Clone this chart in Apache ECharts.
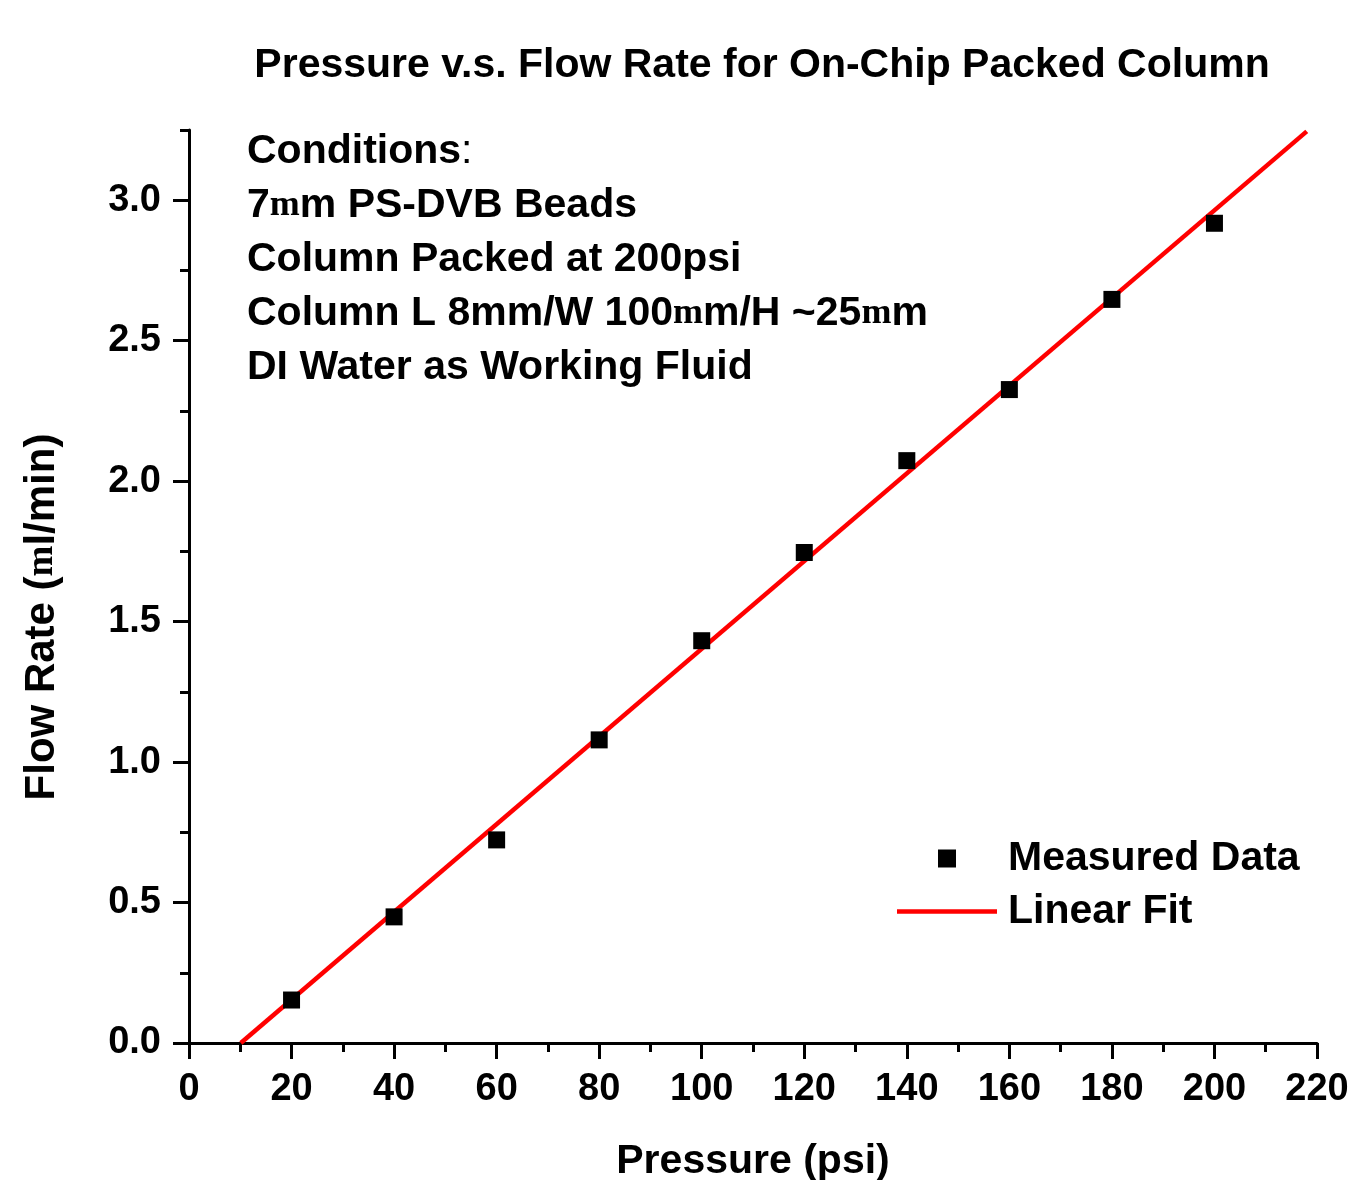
<!DOCTYPE html>
<html>
<head>
<meta charset="utf-8">
<script src="https://cdn.jsdelivr.net/npm/echarts@6/dist/echarts.min.js"></script>
<style>
  html, body { margin: 0; padding: 0; background: #fff; }
  #main { width: 1350px; height: 1180px; }
</style>
</head>
<body>
<div id="main"></div>
<script>
// measured points
var pressure = [20, 40, 60, 80, 100, 120, 140, 160, 180, 200];
var flowRate = [0.153, 0.449, 0.723, 1.079, 1.432, 1.746, 2.073, 2.326, 2.647, 2.918];
// linear fit end points
var fitX = [10.1, 218];
var fitY = [0, 3.245];
var yMajor = [0, 0.5, 1.0, 1.5, 2.0, 2.5, 3.0];
var yMinor = [0.25, 0.75, 1.25, 1.75, 2.25, 2.75, 3.25];

var FONT = 'Liberation Sans';

var chart = echarts.init(document.getElementById('main'));

var measured = pressure.map(function (p, i) { return [p, flowRate[i]]; });
var fit = fitX.map(function (x, i) { return [x, fitY[i]]; });

var option = {
  backgroundColor: '#fff',
  animation: false,
  textStyle: { fontFamily: FONT },
  title: {
    text: 'Pressure v.s. Flow Rate for On-Chip Packed Column',
    left: 757,
    textAlign: 'center',
    top: 40,
    textStyle: { fontFamily: FONT, fontWeight: 'bold', fontSize: 41, color: '#000' }
  },
  grid: { left: 189, right: 33, top: 130, bottom: 137, outerBoundsMode: 'none' },
  legend: {
    orient: 'vertical',
    left: 892,
    top: 833,
    itemWidth: 100,
    itemHeight: 18,
    itemGap: 12,
    symbolKeepAspect: true,
    textStyle: { fontFamily: FONT, fontWeight: 'bold', fontSize: 41, lineHeight: 41, color: '#000', padding: [0, 0, 0, 6] },
    data: [
      { name: 'Measured Data', icon: 'path://M0,0L1,0L1,1L0,1Z' },
      { name: 'Linear Fit', icon: 'path://M0,0L100,0L100,4.5L0,4.5Z' }
    ]
  },
  xAxis: {
    type: 'value',
    min: 0,
    max: 220,
    interval: 20,
    name: 'Pressure (psi)',
    nameLocation: 'middle',
    nameGap: 98,
    nameTextStyle: { fontFamily: FONT, fontWeight: 'bold', fontSize: 41, color: '#000' },
    axisLine: { onZero: false, lineStyle: { color: '#000', width: 3 } },
    axisTick: { show: true, length: 16, lineStyle: { color: '#000', width: 3 } },
    minorTick: { show: true, splitNumber: 2, length: 9, lineStyle: { color: '#000', width: 3 } },
    axisLabel: { fontFamily: FONT, fontWeight: 'bold', fontSize: 38, color: '#000', margin: 28 },
    splitLine: { show: false }
  },
  yAxis: [{
    type: 'value',
    min: 0,
    max: 3.25,
    axisLine: { onZero: false, lineStyle: { color: '#000', width: 3 } },
    axisTick: { show: true, length: 16, customValues: yMajor, lineStyle: { color: '#000', width: 3 } },
    axisLabel: {
      customValues: yMajor,
      fontFamily: FONT, fontWeight: 'bold', fontSize: 38, color: '#000', margin: 28,
      formatter: function (v) { return v.toFixed(1); }
    },
    splitLine: { show: false }
  }, {
    type: 'value',
    min: 0,
    max: 3.25,
    position: 'left',
    axisLine: { show: false },
    axisTick: { show: true, length: 9, customValues: yMinor, lineStyle: { color: '#000', width: 3 } },
    axisLabel: { show: false },
    splitLine: { show: false }
  }],
  graphic: [{
    type: 'text',
    left: 247,
    top: 131,
    style: {
      text: '{b|Conditions}{n|:}\n{b|7}{s|m}{b|m PS-DVB Beads}\n{b|Column Packed at 200psi}\n{b|Column L 8mm/W 100}{s|m}{b|m/H ~25}{s|m}{b|m}\n{b|DI Water as Working Fluid}',
      rich: {
        b: { fontFamily: FONT, fontWeight: 'bold', fontSize: 41, color: '#000', lineHeight: 54 },
        n: { fontFamily: FONT, fontWeight: 'normal', fontSize: 41, color: '#000', lineHeight: 54 },
        s: { fontFamily: 'Liberation Serif', fontWeight: 'bold', fontSize: 36, color: '#000', lineHeight: 54 }
      }
    }
  }, {
    type: 'text',
    rotation: Math.PI / 2,
    x: 42,
    y: 617,
    style: {
      text: '{b|Flow Rate (}{s|m}{b|l/min)}',
      align: 'center',
      verticalAlign: 'middle',
      rich: {
        b: { fontFamily: FONT, fontWeight: 'bold', fontSize: 42, color: '#000' },
        s: { fontFamily: 'Liberation Serif', fontWeight: 'bold', fontSize: 37, color: '#000' }
      }
    }
  }],
  series: [{
    name: 'Measured Data',
    type: 'scatter',
    symbol: 'rect',
    symbolSize: 17,
    itemStyle: { color: '#000', opacity: 1 },
    data: measured,
    z: 3
  }, {
    name: 'Linear Fit',
    type: 'line',
    symbol: 'none',
    lineStyle: { color: '#ff0000', width: 4.5 },
    itemStyle: { color: '#ff0000' },
    data: fit,
    z: 2
  }]
};

chart.setOption(option);
</script>
</body>
</html>
